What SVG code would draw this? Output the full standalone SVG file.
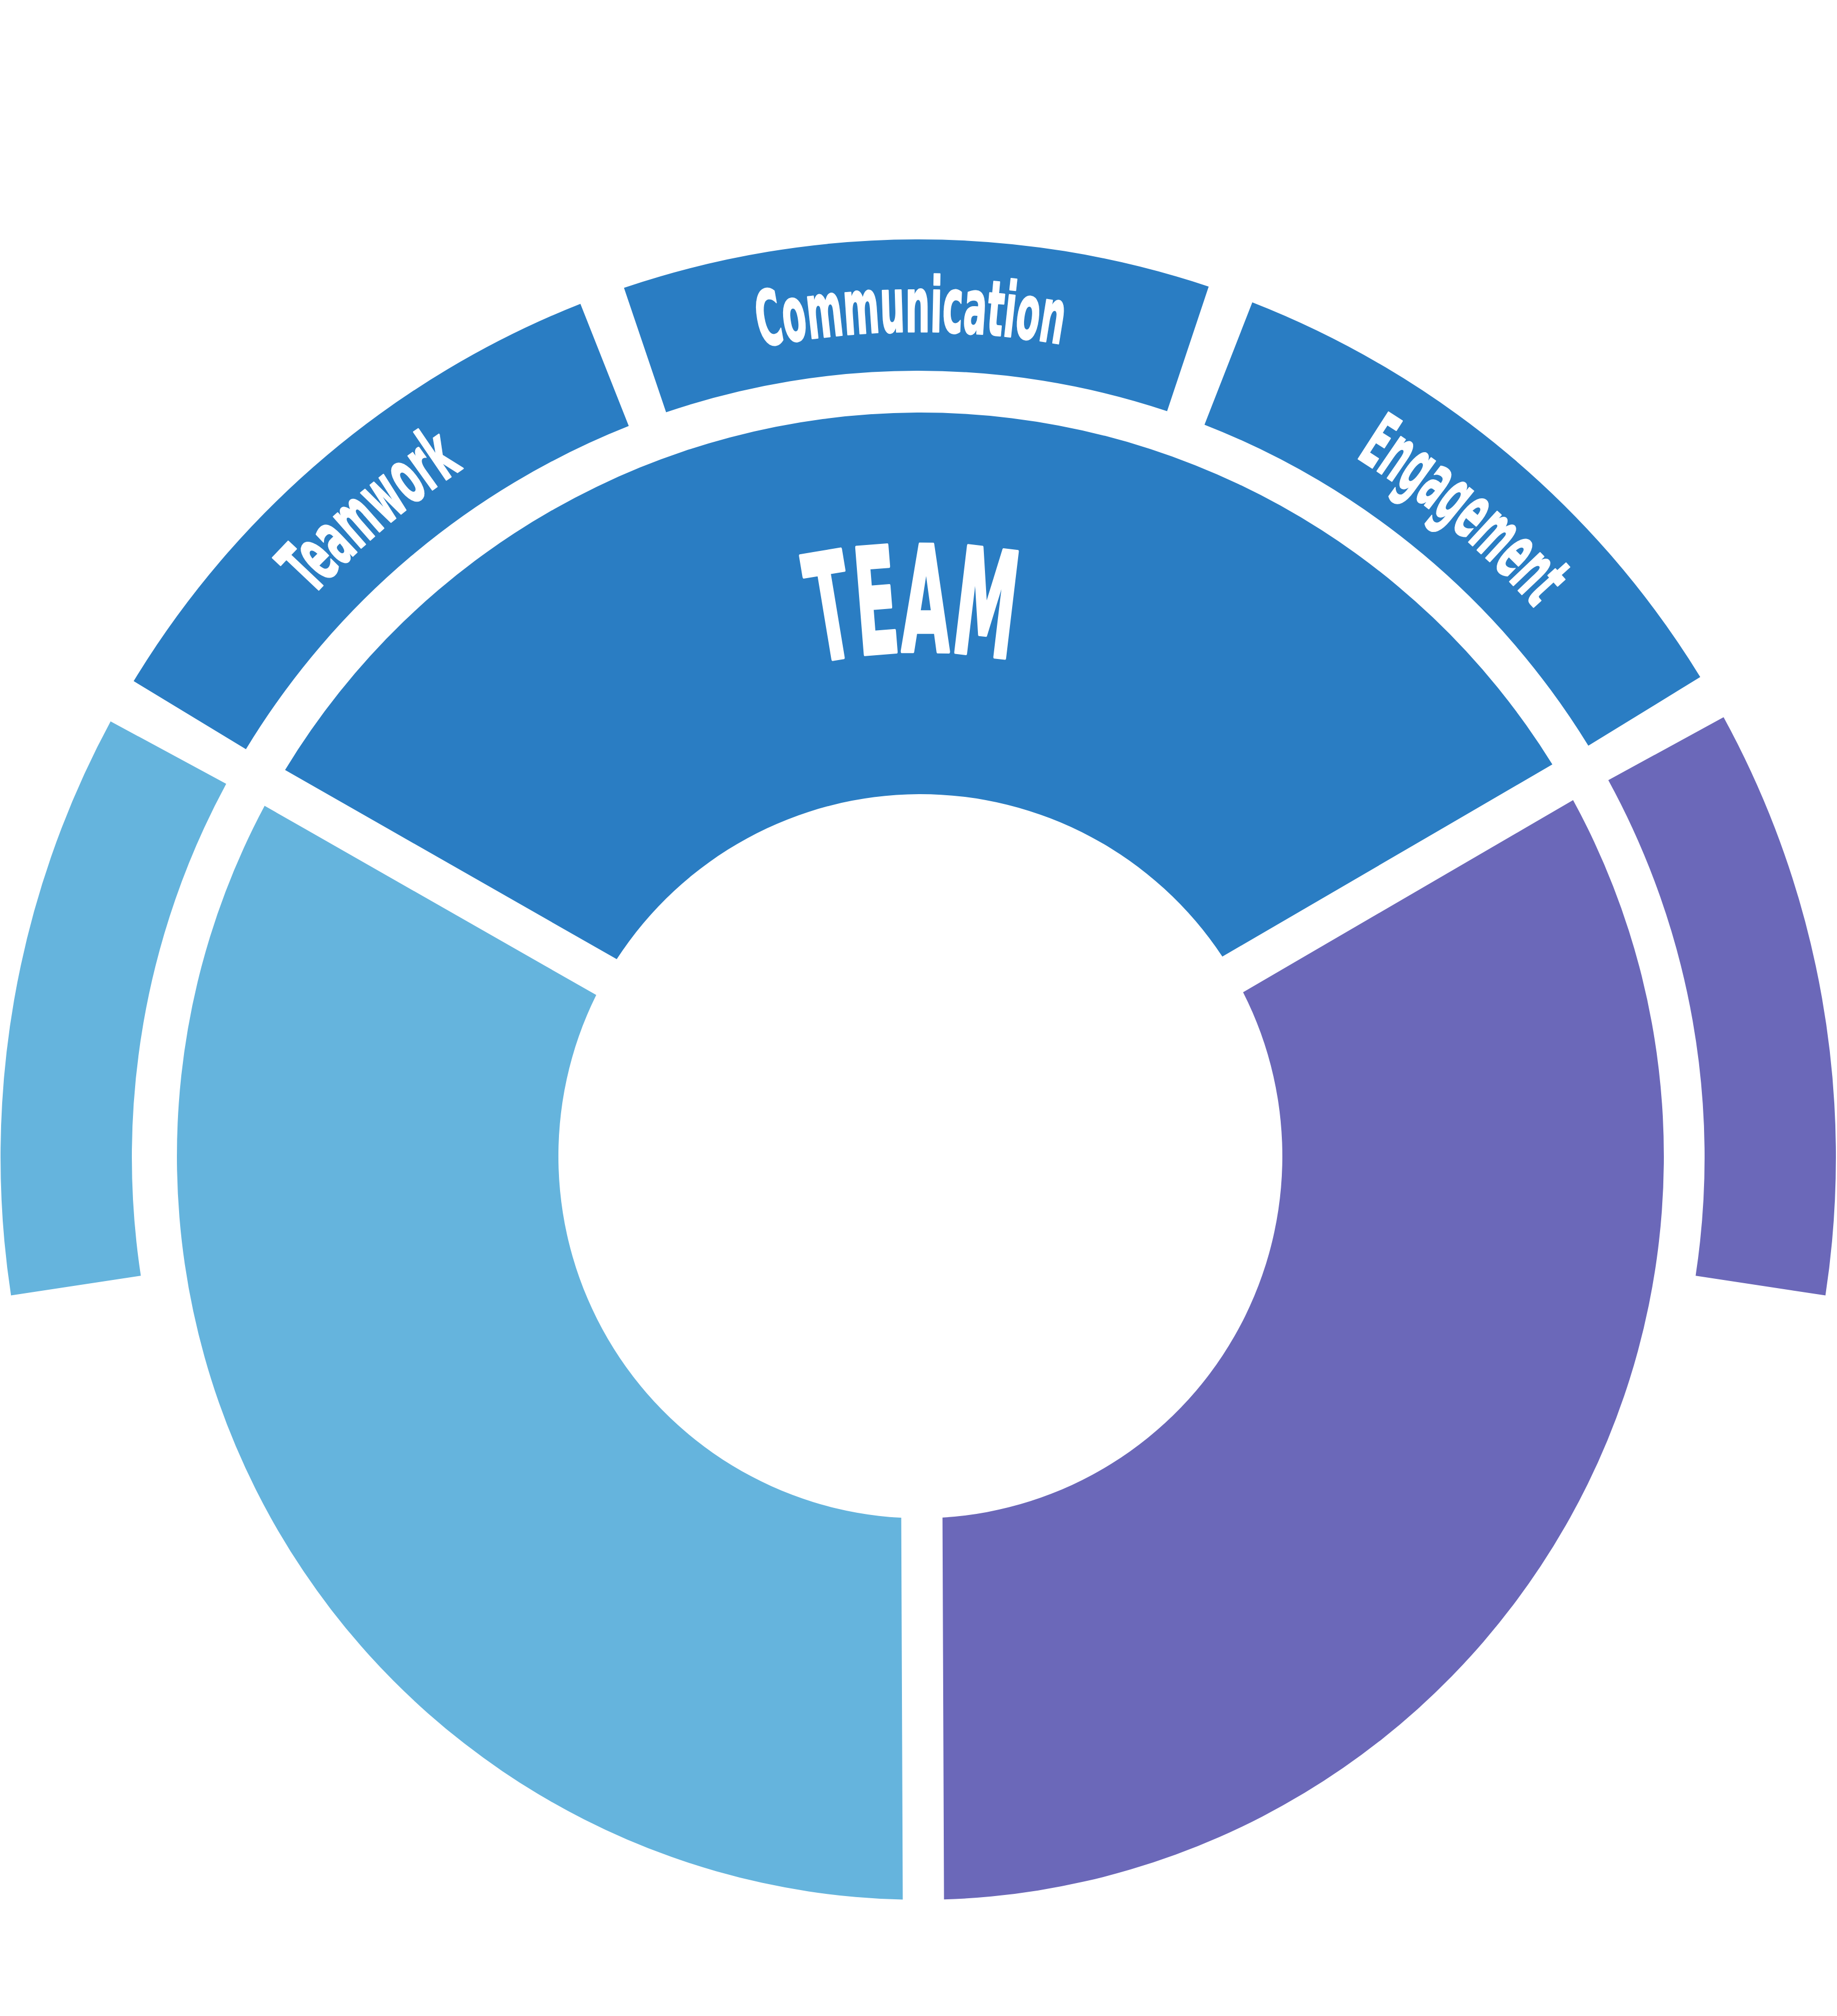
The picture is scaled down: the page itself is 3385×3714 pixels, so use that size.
<svg xmlns="http://www.w3.org/2000/svg" xmlns:xlink="http://www.w3.org/1999/xlink" width="3385" height="3714" viewBox="0 0 3385 3714">
<style>
.blue{fill:#2A7DC3}
.lb{fill:#65B4DD}
.pu{fill:#6B68B9}
.lbl{fill:#FFFFFF;stroke:#FFFFFF;stroke-linejoin:round;font-family:"DejaVu Sans","Liberation Sans",sans-serif;font-weight:bold;font-stretch:condensed}
.big{stroke-width:7}
.small{stroke-width:3}
</style>
<defs>
<path id="pTeam" d="M1505.8,1219.7 A930,930 0 0 1 1936.7,1231.7"/>
<path id="pComm" d="M1401.8,638.9 A1521,1521 0 0 1 2085.7,662.8"/>
<path id="pTeamwork" d="M576.0,1098.6 A1521,1521 0 0 1 977.9,789.0"/>
<path id="pEng" d="M2498.0,842.1 A1521,1521 0 0 1 2937.9,1259.6"/>
</defs>
<rect width="3385" height="3714" fill="#FFFFFF"/>
<g id="inner-team">
<path class="blue" d="M525.3,1418.5 A1370,1370 0 0 1 2860.5,1408.3 L2252.4,1762.2 A667,667 0 0 0 1136.4,1767.1 Z"/>
<text class="lbl big" font-size="270"><textPath xlink:href="#pTeam" href="#pTeam" textLength="359" lengthAdjust="spacingAndGlyphs">TEAM</textPath></text>
</g>
<g id="inner-left">
<path class="lb" d="M1663.5,3499.6 A1370,1370 0 0 1 487.6,1484.5 L1098.7,1833.1 A667,667 0 0 0 1660.7,2796.1 Z"/>
</g>
<g id="inner-right">
<path class="pu" d="M2898.7,1474.0 A1370,1370 0 0 1 1739.5,3499.3 L1736.7,2795.8 A667,667 0 0 0 2290.6,1827.9 Z"/>
</g>
<g id="outer-left">
<path class="lb" d="M20.3,2386.6 A1691,1691 0 0 1 203.8,1329.0 L416.8,1443.9 A1449,1449 0 0 0 259.5,2350.2 Z"/>
</g>
<g id="outer-teamwork">
<path class="blue" d="M246.3,1254.8 A1691,1691 0 0 1 1069.5,559.7 L1158.6,784.8 A1449,1449 0 0 0 453.2,1380.3 Z"/>
<text class="lbl small" font-size="140"><textPath xlink:href="#pTeamwork" href="#pTeamwork" textLength="364" lengthAdjust="spacingAndGlyphs">Teamwork</textPath></text>
</g>
<g id="outer-communication">
<path class="blue" d="M1149.8,530.3 A1691,1691 0 0 1 2227.2,527.9 L2150.6,757.5 A1449,1449 0 0 0 1227.4,759.5 Z"/>
<text class="lbl small" font-size="140"><textPath xlink:href="#pComm" href="#pComm" textLength="557" lengthAdjust="spacingAndGlyphs">Communication</textPath></text>
</g>
<g id="outer-engagement">
<path class="blue" d="M2307.6,557.0 A1691,1691 0 0 1 3133.0,1247.2 L2926.8,1373.8 A1449,1449 0 0 0 2219.5,782.4 Z"/>
<text class="lbl small" font-size="140"><textPath xlink:href="#pEng" href="#pEng" textLength="433" lengthAdjust="spacingAndGlyphs">Engagement</textPath></text>
</g>
<g id="outer-right">
<path class="pu" d="M3176.0,1321.2 A1691,1691 0 0 1 3363.7,2386.6 L3124.5,2350.2 A1449,1449 0 0 0 2963.6,1437.3 Z"/>
</g>
<g id="connectors"/>
</svg>
